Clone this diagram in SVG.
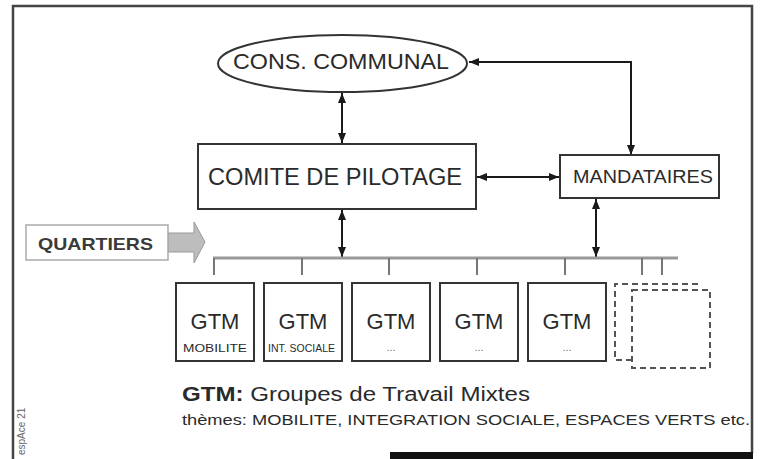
<svg xmlns="http://www.w3.org/2000/svg" width="763" height="459" viewBox="0 0 763 459">
<defs>
<marker id="ah" viewBox="0 0 10 8" refX="10" refY="4" markerWidth="10" markerHeight="9" markerUnits="userSpaceOnUse" orient="auto-start-reverse">
<path d="M0,0 L10,4 L0,8 z" fill="#1a1a1a"/>
</marker>
<style>
.t{font-family:"Liberation Sans",Arial,sans-serif;fill:#2a2a2a}
.box{fill:#fff;stroke:#333;stroke-width:2}
.dash{fill:none;stroke:#555;stroke-width:2;stroke-dasharray:6 4}
.con{fill:none;stroke:#1a1a1a;stroke-width:2;marker-start:url(#ah);marker-end:url(#ah)}
.tick{stroke:#777;stroke-width:2}
</style>
</defs>
<rect width="763" height="459" fill="#fff"/>
<!-- frame -->
<path d="M13,459 V6 H752 V453" fill="none" stroke="#444" stroke-width="2.5"/>
<rect x="390" y="452" width="363" height="7" fill="#111"/>
<text class="t" transform="translate(25,455) rotate(-90)" font-size="10" fill="#666" style="fill:#666">espAce 21</text>

<g id="connectors">
<line class="con" x1="342" y1="93" x2="342" y2="143"/>
<path class="con" d="M469,62 H631 V155"/>
<line class="con" x1="477" y1="177" x2="559" y2="177"/>
<line class="con" x1="596" y1="199" x2="596" y2="257"/>
<line class="con" x1="342" y1="210" x2="342" y2="257"/>
<line x1="213" y1="258" x2="678" y2="258" stroke="#999" stroke-width="3"/>
<line class="tick" x1="214" y1="258" x2="214" y2="275"/>
<line class="tick" x1="302" y1="258" x2="302" y2="275"/>
<line class="tick" x1="389" y1="258" x2="389" y2="275"/>
<line class="tick" x1="477" y1="258" x2="477" y2="275"/>
<line class="tick" x1="565" y1="258" x2="565" y2="275"/>
<line class="tick" x1="642" y1="258" x2="642" y2="275"/>
<line class="tick" x1="662" y1="258" x2="662" y2="275"/>
<!-- quartiers arrow -->
<path d="M168,233 H194 V222 L205,242 L194,263 V252 H168 z" fill="#bdbdbd" stroke="#999" stroke-width="1"/>
</g>

<g id="cons-communal">
<ellipse cx="342.5" cy="63.5" rx="124.5" ry="28.5" class="box"/>
<text class="t" x="233" y="69" font-size="22" textLength="216" lengthAdjust="spacingAndGlyphs">CONS. COMMUNAL</text>
</g>

<g id="comite">
<rect class="box" x="198" y="144" width="278" height="65"/>
<text class="t" x="208" y="185" font-size="23" textLength="254" lengthAdjust="spacingAndGlyphs">COMITE DE PILOTAGE</text>
</g>

<g id="mandataires">
<rect class="box" x="560" y="155" width="159" height="43"/>
<text class="t" x="573" y="183" font-size="18" textLength="140" lengthAdjust="spacingAndGlyphs">MANDATAIRES</text>
</g>

<g id="quartiers">
<rect x="26" y="225" width="142" height="35" fill="#fff" stroke="#aaa" stroke-width="1.5"/>
<text class="t" x="38" y="250" font-size="17" font-weight="bold" textLength="115" lengthAdjust="spacingAndGlyphs" style="fill:#3a3a3a">QUARTIERS</text>
</g>

<g id="gtm1">
<rect class="box" x="176" y="283" width="78" height="78"/>
<text class="t" x="215" y="329" font-size="22" text-anchor="middle">GTM</text>
<text class="t" x="183" y="352" font-size="11" textLength="64" lengthAdjust="spacingAndGlyphs">MOBILITE</text>
</g>
<g id="gtm2">
<rect class="box" x="264" y="283" width="78" height="78"/>
<text class="t" x="303" y="329" font-size="22" text-anchor="middle">GTM</text>
<text class="t" x="268" y="352" font-size="11" textLength="67" lengthAdjust="spacingAndGlyphs">INT. SOCIALE</text>
</g>
<g id="gtm3">
<rect class="box" x="352" y="283" width="78" height="78"/>
<text class="t" x="391" y="329" font-size="22" text-anchor="middle">GTM</text>
<text class="t" x="391" y="351" font-size="11" text-anchor="middle" style="fill:#777">...</text>
</g>
<g id="gtm4">
<rect class="box" x="440" y="283" width="78" height="78"/>
<text class="t" x="479" y="329" font-size="22" text-anchor="middle">GTM</text>
<text class="t" x="479" y="351" font-size="11" text-anchor="middle" style="fill:#777">...</text>
</g>
<g id="gtm5">
<rect class="box" x="528" y="283" width="78" height="78"/>
<text class="t" x="567" y="329" font-size="22" text-anchor="middle">GTM</text>
<text class="t" x="567" y="351" font-size="11" text-anchor="middle" style="fill:#777">...</text>
</g>
<g id="gtm-more">
<path class="dash" d="M632,360 H615 V284 H700"/>
<rect class="dash" x="632" y="290" width="78" height="78"/>
</g>

<g id="legend">
<text class="t" x="182" y="401" font-size="20" textLength="348" lengthAdjust="spacingAndGlyphs"><tspan font-weight="bold">GTM:</tspan> Groupes de Travail Mixtes</text>
<text class="t" x="182" y="425" font-size="15" textLength="568" lengthAdjust="spacingAndGlyphs">thèmes: MOBILITE, INTEGRATION SOCIALE, ESPACES VERTS etc.</text>
</g>
</svg>
